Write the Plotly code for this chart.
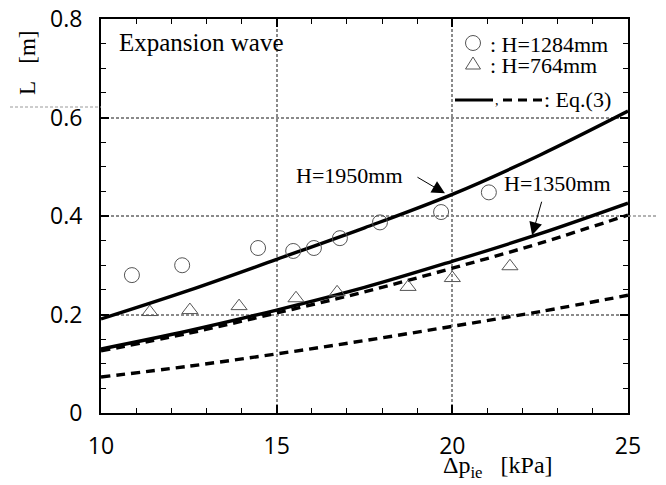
import plotly.graph_objects as go

# ---- data ----
x_curve = [10, 12.5, 15, 17.5, 20, 22.5, 25]
L_H1950 = [0.191, 0.249, 0.312, 0.376, 0.444, 0.524, 0.613]
L_H1350 = [0.130, 0.167, 0.209, 0.255, 0.308, 0.364, 0.426]
L_eq_upper = [0.126, 0.162, 0.203, 0.246, 0.294, 0.345, 0.402]
L_eq_lower = [0.073, 0.095, 0.120, 0.147, 0.176, 0.206, 0.239]

dp_1284 = [10.88, 12.31, 14.47, 15.47, 16.06, 16.80, 17.94, 19.68, 21.04]
L_1284 = [0.280, 0.300, 0.335, 0.329, 0.335, 0.355, 0.387, 0.408, 0.448]

dp_764 = [11.39, 12.53, 13.93, 15.55, 16.72, 18.74, 20.00, 21.64]
L_764 = [0.205, 0.209, 0.217, 0.233, 0.245, 0.256, 0.274, 0.298]

x_ticks = [10, 15, 20, 25]
y_ticks = [0, 0.2, 0.4, 0.6, 0.8]
y_ticktext = ["0", "0.2", "0.4", "0.6", "0.8"]

# ---- layout geometry (page pixels; the page body adds an 8px offset) ----
OFF = 8
PAGE_W, PAGE_H = 666, 485
PL, PR, PT, PB = 101, 628, 19, 413          # plot area in page pixels
W, H = PAGE_W - OFF, PAGE_H - OFF
ML, MT = PL - OFF, PT - OFF
MR, MB = W - (PR - OFF), H - (PB - OFF)
PW, PH = PR - PL, PB - PT


def px(xp):
    return (xp - PL) / PW


def py(yp):
    return (PB - yp) / PH


SERIF = "Liberation Serif, Times New Roman, serif"
SANS = "Open Sans, DejaVu Sans, sans-serif"
NB = "\u00a0"

fig = go.Figure()

line_solid = dict(color="black", width=3.4, shape="spline")
line_dash = dict(color="black", width=3.4, shape="spline", dash="9px,6px")

fig.add_trace(go.Scatter(x=x_curve, y=L_H1950, mode="lines", line=line_solid, showlegend=False))
fig.add_trace(go.Scatter(x=x_curve, y=L_H1350, mode="lines", line=line_solid, showlegend=False))
fig.add_trace(go.Scatter(x=x_curve, y=L_eq_upper, mode="lines", line=line_dash, showlegend=False))
fig.add_trace(go.Scatter(x=x_curve, y=L_eq_lower, mode="lines", line=line_dash, showlegend=False))

fig.add_trace(go.Scatter(
    x=dp_1284, y=L_1284, mode="markers", showlegend=False,
    marker=dict(symbol="circle-open", size=15, color="#555555", line=dict(width=1))))
fig.add_trace(go.Scatter(
    x=dp_764, y=L_764, mode="markers", showlegend=False,
    marker=dict(symbol="triangle-up-open", size=14, color="#555555", line=dict(width=1))))

axis_common = dict(
    showline=True, linecolor="black", linewidth=2, mirror="allticks",
    ticks="inside", ticklen=8, tickwidth=1.5, tickcolor="black",
    showgrid=True, gridcolor="#8a8a8a", gridwidth=1.5, griddash="3px,2px",
    zeroline=False, automargin=False, ticklabeloverflow="allow",
    tickfont=dict(family=SANS, size=23, color="black"),
)

fig.update_xaxes(range=[10, 25], tickvals=x_ticks, ticktext=[str(v) for v in x_ticks],
                 minor=dict(dtick=1, tick0=10, ticks="inside", ticklen=5, tickwidth=1.2,
                            tickcolor="black", showgrid=False),
                 ticklabelstandoff=11, **axis_common)
fig.update_yaxes(range=[0, 0.8], tickvals=y_ticks, ticktext=y_ticktext,
                 minor=dict(dtick=0.05, tick0=0, ticks="inside", ticklen=5, tickwidth=1.2,
                            tickcolor="black", showgrid=False),
                 ticklabelstandoff=12, **axis_common)


def txt(text, x, y, size=22, xanchor="center", **kw):
    return dict(text=text, xref="paper", yref="paper", x=px(x), y=py(y),
                xanchor=xanchor, yanchor="middle", showarrow=False,
                font=dict(family=SERIF, size=size, color="black"), **kw)


annotations = [
    txt("L" + NB * 3 + "[m]", 27, 63, size=23, textangle=-90),
    txt("Δp<sub>ie</sub>" + NB * 3 + "[kPa]", 498, 467, size=24),
    txt("Expansion wave", 117, 43, size=25, xanchor="left"),
    txt("H=1950mm", 349, 175),
    txt("H=1350mm", 557, 183),
    txt(":" + NB + "H=1284mm", 488, 45, xanchor="left"),
    txt(":" + NB + "H=764mm", 488, 65, xanchor="left"),
    txt(",", 497, 101, size=14),
    txt(":" + NB + "Eq.(3)", 542, 99, xanchor="left"),
    # arrows pointing to the curves
    dict(text="", x=19.79, y=0.446, xref="x", yref="y", ax=-29, ay=-17,
         showarrow=True, arrowhead=2, arrowsize=2.6, arrowwidth=1, arrowcolor="black"),
    dict(text="", x=22.27, y=0.361, xref="x", yref="y", ax=10, ay=-35,
         showarrow=True, arrowhead=2, arrowsize=2.6, arrowwidth=1, arrowcolor="black"),
]

shapes = [
    # legend glyphs
    dict(type="circle", xref="paper", yref="paper",
         x0=px(465.5), x1=px(480.5), y0=py(50.5), y1=py(35.5),
         line=dict(color="#555555", width=1)),
    dict(type="path", xref="paper", yref="paper",
         path=f"M {px(465.5)} {py(69)} L {px(480.5)} {py(69)} L {px(473)} {py(57)} Z",
         line=dict(color="#555555", width=1)),
    dict(type="line", xref="paper", yref="paper",
         x0=px(455), x1=px(493), y0=py(100), y1=py(100),
         line=dict(color="black", width=3)),
    dict(type="line", xref="paper", yref="paper",
         x0=px(503), x1=px(543), y0=py(100), y1=py(100),
         line=dict(color="black", width=3, dash="9px,6px")),
    # faint scan guide lines outside the frame
    dict(type="line", xref="paper", yref="paper",
         x0=px(0), x1=px(101), y0=py(107), y1=py(107),
         line=dict(color="#9a9a9a", width=1, dash="3px,2px")),
    dict(type="line", xref="paper", yref="paper",
         x0=px(628), x1=px(666), y0=py(216), y1=py(216),
         line=dict(color="#9a9a9a", width=1.5, dash="3px,2px")),
]

fig.update_layout(
    width=W, height=H,
    margin=dict(l=ML, r=MR, t=MT, b=MB, autoexpand=False),
    paper_bgcolor="white", plot_bgcolor="white",
    showlegend=False,
    annotations=annotations, shapes=shapes,
)

fig.write_html("out.html")
